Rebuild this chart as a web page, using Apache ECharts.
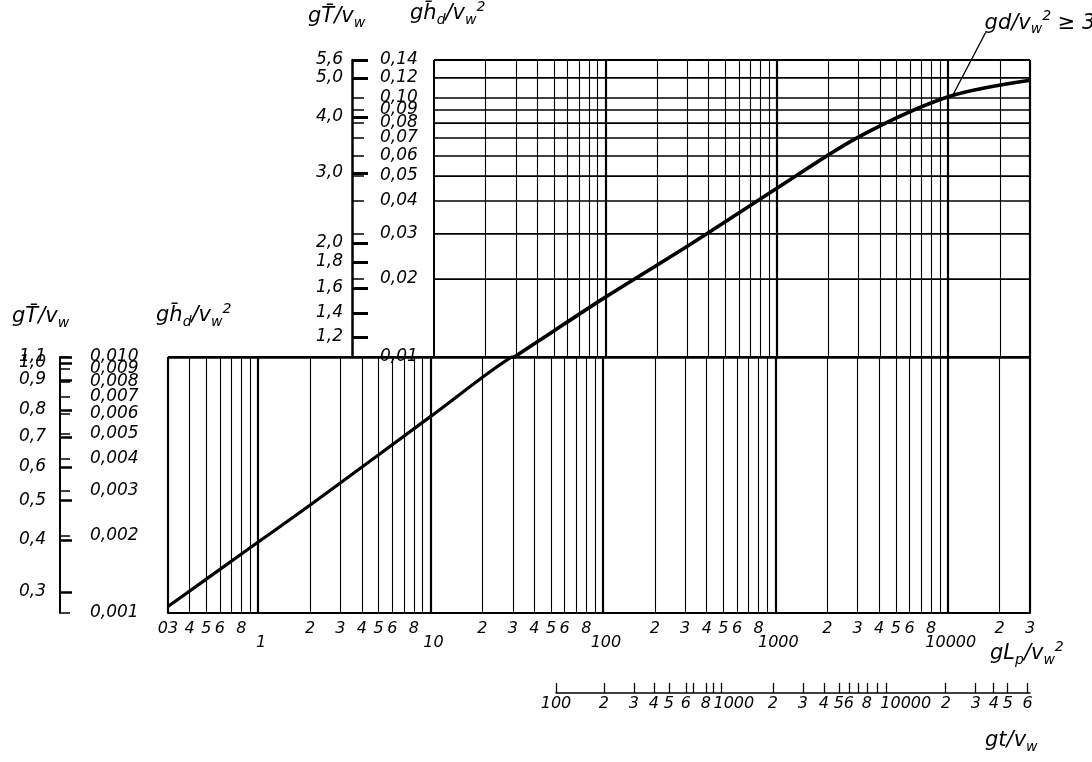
<!DOCTYPE html>
<html><head><meta charset="utf-8">
<script src="https://cdn.jsdelivr.net/npm/echarts@6/dist/echarts.min.js"></script>
<style>html,body{margin:0;padding:0;background:#fff}#c{width:1092px;height:762px}</style>
</head><body><div id="c"></div>
<script>
// ---------------- data ----------------
// curve: gLp/vw^2  vs  g hd/vw^2
const curveGLp = [0.3, 0.83, 2.08, 10.3, 23.4, 50, 97, 324, 1007, 3007, 10000, 30000];
const curveHd  = [0.00106, 0.00173, 0.00269, 0.00594, 0.0090, 0.0126, 0.0168, 0.0276, 0.0449, 0.0707, 0.101, 0.117];

// gLp/vw^2 axis tick labels
const gLpTickValues = [0.3,0.4,0.5,0.6,0.8,1,2,3,4,5,6,8,10,20,30,40,50,60,80,100,200,300,400,500,600,800,1000,2000,3000,4000,5000,6000,8000,10000,20000,30000];
const gLpTickLabels = ['03','4','5','6','8','1','2','3','4','5','6','8','10','2','3','4','5','6','8','100','2','3','4','5','6','8','1000','2','3','4','5','6','8','10000','2','3'];
const gLpDecades = [1,10,100,1000,10000];
// vertical grid lines
const gridXLower = [0.4,0.5,0.6,0.7,0.8,0.9,1,2,3,4,5,6,7,8,9,10,20,30,40,50,60,70,80,90,100,200,300,400,500,600,700,800,900,1000,2000,3000,4000,5000,6000,7000,8000,9000,10000,20000];
const gridXUpper = [20,30,40,50,60,70,80,90,100,200,300,400,500,600,700,800,900,1000,2000,3000,4000,5000,6000,7000,8000,9000,10000,20000];

// hd axes
const hdLowerTicks = [0.001,0.002,0.003,0.004,0.005,0.006,0.007,0.008,0.009,0.010];
const hdUpperTicks = [0.01,0.02,0.03,0.04,0.05,0.06,0.07,0.08,0.09,0.10,0.12,0.14];

// T axes: label and its position expressed as the hd value at the same height
const tLowerLabels = ['0,3','0,4','0,5','0,6','0,7','0,8','0,9','1,0','1,1'];
const tLowerAtHd   = [0.00121,0.00193,0.00276,0.00372,0.00487,0.00621,0.00813,0.00948,0.0100];
const tUpperLabels = ['1,2','1,4','1,6','1,8','2,0','3,0','4,0','5,0','5,6'];
const tUpperAtHd   = [0.01195,0.01479,0.01847,0.02327,0.02755,0.05133,0.08446,0.1195,0.14];

// gt/vw axis: value and its position expressed as gLp/vw^2 at the same place
const gtValues = [100,200,300,400,500,600,700,800,900,1000,2000,3000,4000,5000,6000,7000,8000,9000,10000,20000,30000,40000,50000,60000];
const gtAtGLp  = [53.4,101.3,151.2,197.6,241.3,302.8,332,395.5,434,483,967,1443,1911,2334,2668,3008,3392,3876,4371,9737,14535,18480,22280,29090];
const gtLabelValues = [100,200,300,400,500,600,800,1000,2000,3000,4000,5000,6000,8000,10000,20000,30000,40000,50000,60000];
const gtLabelTexts  = ['100','2','3','4','5','6','8','1000','2','3','4','5','6','8','10000','2','3','4','5','6'];

// annotation "gd/vw^2 >= 3"
const annotAt = [10600, 0.102];

// ---------------- chart ----------------
const FONT = 'DejaVu Sans';
const L0 = 168, R0 = 1030, T0 = 357, B0 = 613, T1 = 60;
const X0MIN = 0.3, X0MAX = 30000, X1MIN = 10;
const L1 = 434;
const lg = Math.log10;
const L2 = L0 + (R0 - L0) * lg(gtAtGLp[0] / X0MIN) / lg(X0MAX / X0MIN);

function nearest(vals, labels, v) {
  let bi = 0, bd = Infinity;
  vals.forEach((x, i) => { const d = Math.abs(Math.log(x) - Math.log(v)); if (d < bd) { bd = d; bi = i; } });
  return labels[bi];
}
// keep tick values a hair inside the axis extent (floating point at the ends)
const inside = (arr, lo, hi) => arr.map(v => Math.min(Math.max(v, lo * (1 + 1e-7)), hi * (1 - 1e-7)));
const evens = a => a.filter((_, i) => i % 2 === 0);
const odds = a => a.filter((_, i) => i % 2 === 1);
const isDecade = v => gLpDecades.some(d => Math.abs(v / d - 1) < 1e-6);
const BLACK = '#000';
const lblBase = { color: BLACK, fontFamily: FONT, fontStyle: 'italic', hideOverlap: false, showMinLabel: true, showMaxLabel: true };

function vLines(vals) {
  return vals.map(v => ({ xAxis: v, lineStyle: { width: isDecade(v) ? 2.2 : 1.1 } }));
}
function hLines(vals, w) {
  return vals.map(v => ({ yAxis: v, lineStyle: { width: w } }));
}
function gridSeries(xi, yi, data) {
  return {
    type: 'line', xAxisIndex: xi, yAxisIndex: yi, data: [], z: 1, silent: true,
    markLine: { silent: true, symbol: ['none', 'none'], label: { show: false }, animation: false,
      lineStyle: { color: BLACK, type: 'solid', width: 1 }, data: data }
  };
}
// a label-only companion axis (no line, no ticks) sharing a grid's scale
function labelAxis(gi, min, max, vals, fmt, offset, label) {
  return { gridIndex: gi, type: 'log', min: min, max: max, position: 'left', offset: offset,
    axisLine: { show: false }, axisTick: { show: false }, splitLine: { show: false },
    axisLabel: Object.assign({}, lblBase, label, { customValues: inside(vals, min, max), formatter: fmt }) };
}

const curveData = curveGLp.map((x, i) => [x, curveHd[i]]);
const hdLowerMain = hdLowerTicks.slice(0, -1), hdLowerTop = hdLowerTicks.slice(-1);
const tLowerMain = tLowerAtHd.slice(0, -1), tLowerTop = tLowerAtHd.slice(-1);
const fmtHdLower = v => nearest(hdLowerTicks, hdLowerTicks, v).toFixed(3).replace('.', ',');
const fmtTLower = v => nearest(tLowerAtHd, tLowerLabels, v);
const OFF0 = L0 - 60;
const hdLbl = { inside: true, fontSize: 17, margin: 30, padding: [0, 0, 8, 0] };
const tLbl = { fontSize: 17, margin: 14 };

const option = {
  animation: false,
  backgroundColor: '#fff',
  grid: [
    { left: L0, top: T0, width: R0 - L0, height: B0 - T0 },
    { left: L1, top: T1, width: R0 - L1, height: T0 - T1 },
    { left: L2, top: 692, width: R0 - L2, height: 1 }
  ],
  xAxis: [
    { gridIndex: 0, type: 'log', min: X0MIN, max: X0MAX, axisLine: { lineStyle: { color: BLACK, width: 2 } },
      axisTick: { show: false }, splitLine: { show: false }, minorTick: { show: false },
      axisLabel: Object.assign({}, lblBase, { fontSize: 16, margin: 8,
        customValues: inside(gLpTickValues, X0MIN, X0MAX),
        formatter: v => { const t = nearest(gLpTickValues, gLpTickLabels, v); return isDecade(v) ? '{d|' + t + '}' : t; },
        rich: { d: { fontFamily: FONT, fontStyle: 'italic', fontSize: 16, color: BLACK, padding: [14, 0, 0, 6] } } }) },
    { gridIndex: 1, type: 'log', min: X1MIN, max: X0MAX, show: false },
    { gridIndex: 2, type: 'log', min: gtAtGLp[0], max: X0MAX, position: 'bottom',
      axisLine: { lineStyle: { color: BLACK, width: 1.5 } },
      axisTick: { show: true, inside: true, length: 10, customValues: inside(gtAtGLp, gtAtGLp[0], X0MAX), lineStyle: { color: BLACK, width: 1.3 } },
      splitLine: { show: false },
      axisLabel: Object.assign({}, lblBase, { fontSize: 16, margin: 3,
        customValues: inside(gtLabelValues.map(v => nearest(gtValues, gtAtGLp, v)), gtAtGLp[0], X0MAX),
        formatter: v => { const t = nearest(gtAtGLp, gtValues, v); const s = gtLabelTexts[gtLabelValues.indexOf(t)];
          return t === 1000 ? '{a|' + s + '}' : (t === 10000 ? '{b|' + s + '}' : s); },
        rich: { a: { fontFamily: FONT, fontStyle: 'italic', fontSize: 16, color: BLACK, padding: [0, 0, 0, 26] },
                b: { fontFamily: FONT, fontStyle: 'italic', fontSize: 16, color: BLACK, padding: [0, 0, 0, 40] } } }) }
  ],
  yAxis: [
    // 0: lower hd axis (scale line, ticks, every other label)
    { gridIndex: 0, type: 'log', min: 0.001, max: 0.01, position: 'left', offset: OFF0,
      axisLine: { show: true, lineStyle: { color: BLACK, width: 2 } },
      axisTick: { show: true, inside: true, length: 10, customValues: inside(hdLowerTicks, 0.001, 0.01), lineStyle: { color: BLACK, width: 1.5 } },
      splitLine: { show: false },
      axisLabel: Object.assign({}, lblBase, hdLbl, { customValues: inside(evens(hdLowerMain), 0.001, 0.01), formatter: fmtHdLower }) },
    // 1: lower T axis (ticks, every other label)
    { gridIndex: 0, type: 'log', min: 0.001, max: 0.01, position: 'left', offset: OFF0,
      axisLine: { show: false },
      axisTick: { show: true, inside: true, length: 12, customValues: inside(tLowerAtHd, 0.001, 0.01), lineStyle: { color: BLACK, width: 2.5 } },
      splitLine: { show: false },
      axisLabel: Object.assign({}, lblBase, tLbl, { customValues: inside(evens(tLowerMain), 0.001, 0.01), formatter: fmtTLower }) },
    // 2: upper hd axis
    { gridIndex: 1, type: 'log', min: 0.01, max: 0.14, position: 'left', offset: L1 - 352,
      axisLine: { show: true, lineStyle: { color: BLACK, width: 2.5 } },
      axisTick: { show: true, inside: true, length: 12, customValues: inside(hdUpperTicks, 0.01, 0.14), lineStyle: { color: BLACK, width: 1.5 } },
      splitLine: { show: false },
      axisLabel: Object.assign({}, lblBase, { inside: true, fontSize: 17, margin: 28,
        customValues: inside(hdUpperTicks, 0.01, 0.14), padding: [0, 0, 12, 0],
        formatter: v => nearest(hdUpperTicks, hdUpperTicks, v).toFixed(2).replace('.', ',') }) },
    // 3: upper T axis
    { gridIndex: 1, type: 'log', min: 0.01, max: 0.14, position: 'left', offset: L1 - 352,
      axisLine: { show: false },
      axisTick: { show: true, inside: true, length: 16, customValues: inside(tUpperAtHd, 0.01, 0.14), lineStyle: { color: BLACK, width: 3 } },
      splitLine: { show: false },
      axisLabel: Object.assign({}, lblBase, { fontSize: 17, margin: 9,
        customValues: inside(tUpperAtHd, 0.01, 0.14),
        formatter: v => nearest(tUpperAtHd, tUpperLabels, v) }) },
    // 4: hidden axis of the gt strip
    { gridIndex: 2, type: 'value', show: false },
    // 5-8: remaining labels of the lower scales, split so that crowded neighbours all stay visible
    labelAxis(0, 0.001, 0.01, odds(hdLowerMain), fmtHdLower, OFF0, hdLbl),
    labelAxis(0, 0.001, 0.01, odds(tLowerMain), fmtTLower, OFF0, tLbl),
    labelAxis(0, 0.001, 0.01, hdLowerTop, fmtHdLower, OFF0, Object.assign({}, hdLbl, { padding: [0, 0, 28, 0] })),
    labelAxis(0, 0.001, 0.01, tLowerTop, fmtTLower, OFF0, Object.assign({}, tLbl, { padding: [0, 0, 8, 0] }))
  ],
  series: [
    // lower grid lines
    gridSeries(0, 0, [].concat(
      vLines(gridXLower),
      [{ xAxis: X0MIN, lineStyle: { width: 2.2 } }, { xAxis: X0MAX, lineStyle: { width: 2.2 } }],
      hLines(hdLowerTicks.slice(1, -1), 1.5),
      hLines(tLowerAtHd.slice(0, -1), 1),
      [{ yAxis: 0.01, lineStyle: { width: 2.5 } }]
    )),
    // upper grid lines
    gridSeries(1, 2, [].concat(
      vLines(gridXUpper),
      [{ xAxis: X1MIN, lineStyle: { width: 2 } }, { xAxis: X0MAX, lineStyle: { width: 2.2 } }],
      hLines(hdUpperTicks.slice(1, -1), 1.5),
      hLines(tUpperAtHd.slice(0, -1), 1),
      [{ yAxis: 0.14, lineStyle: { width: 2 } }]
    )),
    { type: 'line', xAxisIndex: 0, yAxisIndex: 0, data: curveData, smooth: 0.3, showSymbol: false, clip: true, z: 5,
      lineStyle: { color: BLACK, width: 3.2 } },
    { type: 'line', xAxisIndex: 1, yAxisIndex: 2, data: curveData, smooth: 0.3, showSymbol: false, clip: true, z: 5,
      lineStyle: { color: BLACK, width: 3.6 } }
  ]
};

const chart = echarts.init(document.getElementById('c'), null, { renderer: 'canvas' });
chart.setOption(option);

// titles (text)
const it = { fontFamily: FONT, fontStyle: 'italic', fill: BLACK };
function title(x, y, rich, text) {
  return { type: 'text', x: x, y: y, z: 10, style: Object.assign({ text: text, rich: rich }, it) };
}
const richT = {
  a: { fontFamily: FONT, fontStyle: 'italic', fontSize: 21, fill: BLACK },
  s: { fontFamily: FONT, fontStyle: 'italic', fontSize: 14, fill: BLACK, padding: [12, 0, 0, 0] },
  p: { fontFamily: FONT, fontStyle: 'italic', fontSize: 14, fill: BLACK, padding: [0, 0, 14, 0] }
};
const p = chart.convertToPixel({ gridIndex: 1 }, annotAt);
chart.setOption({
  graphic: [
    title(308, 4, richT, '{a|gT̄/v}{s|w}'),
    title(410, 0, richT, '{a|gh̄}{s|d}{a|/v}{s|w}{p|2}'),
    title(12, 304, richT, '{a|gT̄/v}{s|w}'),
    title(156, 302, richT, '{a|gh̄}{s|d}{a|/v}{s|w}{p|2}'),
    title(990, 640, richT, '{a|gL}{s|p}{a|/v}{s|w}{p|2}'),
    title(985, 728, richT, '{a|gt/v}{s|w}'),
    { type: 'line', z: 10, shape: { x1: p[0], y1: p[1], x2: p[0] + 33, y2: p[1] - 63 }, style: { stroke: BLACK, lineWidth: 1.2 } },
    title(p[0] + 32, p[1] - 86, richT, '{a|gd/v}{s|w}{p|2}{a| ≥ 3}')
  ]
});
</script>
</body></html>
